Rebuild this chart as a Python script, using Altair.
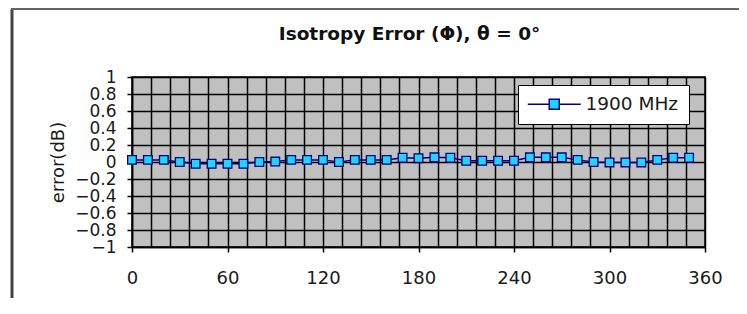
import altair as alt
import pandas as pd

# ---- data ----
angles = [0, 10, 20, 30, 40, 50, 60, 70, 80, 90, 100, 110, 120, 130, 140, 150, 160, 170,
          180, 190, 200, 210, 220, 230, 240, 250, 260, 270, 280, 290, 300, 310, 320, 330, 340, 350]
errors = [0.025, 0.025, 0.025, 0.0, -0.02, -0.02, -0.02, -0.02, 0.0, 0.005, 0.025, 0.025,
          0.025, 0.0, 0.025, 0.025, 0.025, 0.05, 0.045, 0.055, 0.05, 0.015, 0.015, 0.015,
          0.015, 0.055, 0.055, 0.055, 0.025, 0.0, -0.005, -0.005, -0.005, 0.025, 0.05, 0.05]
series_name = "1900 MHz"
x_grid_values = list(range(0, 361, 12))
y_tick_values = [-1, -0.8, -0.6, -0.4, -0.2, 0, 0.2, 0.4, 0.6, 0.8, 1]
title_text = "Isotropy Error (Φ), θ = 0°"
y_title = "error(dB)"

df = pd.DataFrame({"angle": angles, "error": errors, "series": [series_name] * len(angles)})

FONT = "DejaVu Sans"
NAVY = "#000080"
CYAN = "#22d3ff"

x_enc = alt.X(
    "angle:Q",
    scale=alt.Scale(domain=[0, 360], nice=False, zero=False),
    axis=alt.Axis(
        values=x_grid_values,
        title=None,
        labelExpr="datum.value % 60 === 0 ? datum.label : ''",
        labelFlush=False,
        labelOverlap=False,
        labelFontSize=18,
        labelPadding=17,
        tickSize=5,
        tickOpacity={"condition": {"test": "datum.value % 60 === 0", "value": 1}, "value": 0},
        grid=True,
    ),
)
y_enc = alt.Y(
    "error:Q",
    scale=alt.Scale(domain=[-1, 1], nice=False),
    axis=alt.Axis(
        values=y_tick_values,
        title=y_title,
        titleFontSize=18,
        titleFontWeight="normal",
        titleX=-74,
        titleY=85,
        titleAngle=270,
        titleAlign="center",
        titleBaseline="middle",
        labelExpr="format(datum.value, '.1~f')",
        labelFontSize=17,
        labelPadding=11,
        labelOverlap=False,
        tickSize=5,
        grid=True,
    ),
)

base = alt.Chart(df)

line = base.mark_line(color=NAVY, strokeWidth=1.5).encode(x=x_enc, y=y_enc)

symbol_path = "M-5.3,0L-1,0M1,0L5.3,0M-1,-1L1,-1L1,1L-1,1Z"

points = base.mark_square(size=75, filled=True, stroke=NAVY, strokeWidth=1.3, opacity=1).encode(
    x=x_enc,
    y=y_enc,
    fill=alt.Fill(
        "series:N",
        scale=alt.Scale(domain=[series_name], range=[CYAN]),
        legend=alt.Legend(
            title=None,
            orient="none",
            legendX=386,
            legendY=8,
            symbolType=symbol_path,
            symbolSize=100,
            symbolOffset=17,
            symbolStrokeColor=NAVY,
            symbolStrokeWidth=1.5,
            symbolFillColor=CYAN,
            labelFont=FONT,
            labelFontSize=18.5,
            labelColor="#1a1a1a",
            labelOffset=22,
            padding=10,
            fillColor="white",
            strokeColor="black",
        ),
    ),
)

frame_data = alt.Data(values=[{"k": 1}])
frame_left = alt.Chart(frame_data).mark_rule(color="#444444", strokeWidth=3).encode(
    x=alt.value(-120), y=alt.value(-68), y2=alt.value(221)
)
frame_top = alt.Chart(frame_data).mark_rule(color="#666666", strokeWidth=2).encode(
    x=alt.value(-121), x2=alt.value(607), y=alt.value(-68)
)

chart = (
    alt.layer(line, points, frame_left, frame_top)
    .properties(
        width=573,
        height=170,
        autosize=alt.AutoSizeParams(type="none"),
        padding={"left": 124, "top": 69, "right": 34, "bottom": 51},
        background="white",
        title=alt.TitleParams(
            text=title_text,
            font=FONT,
            fontSize=18.5,
            fontWeight="bold",
            color="#111111",
            anchor="middle",
            frame="group",
            baseline="alphabetic",
            dx=-9,
            dy=51,
            offset=0,
        ),
    )
    .configure_view(fill="#c0c0c0", stroke="black", strokeWidth=1.5)
    .configure_axis(
        labelFont=FONT,
        titleFont=FONT,
        labelColor="#1a1a1a",
        titleColor="#1a1a1a",
        domainColor="black",
        domainWidth=1.5,
        tickColor="black",
        tickWidth=1.5,
        gridColor="black",
        gridWidth=1.5,
        gridOpacity=1,
    )
)

chart.save("out.html", embed_options={"renderer": "svg", "actions": False})
